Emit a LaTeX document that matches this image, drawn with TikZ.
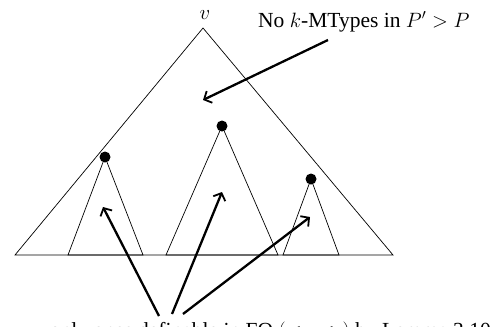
\documentclass[tikz,border=0pt]{standalone}
\usepackage{fontspec}
\setmainfont{Liberation Serif}
\usetikzlibrary{arrows.meta}
\begin{document}
\begin{tikzpicture}[x=1pt,y=-1pt,
  thinline/.style={line width=0.7pt},
  dot/.style={circle,fill=black,inner sep=0pt,minimum size=11pt},
  bigarrow/.style={line width=2.3pt,-{Straight Barb[length=6pt,width=13pt,line width=1.8pt]}},
  lbl/.style={inner sep=0pt,font=\fontsize{21.5}{24}\selectfont}]
\useasboundingbox (0,0) rectangle (491,327);
\clip (0,0) rectangle (491,327);
% big triangle
\coordinate (v) at (203,28);
\coordinate (bl) at (15,255);
\coordinate (br) at (393,255);
\draw[thinline] (bl) -- (v) -- (br) -- cycle;
\node[lbl,anchor=base] (vlab) at (205,19) {$v$};
% subtrees
\node[dot] (d1) at (105,157) {};
\node[dot] (d2) at (222,126) {};
\node[dot] (d3) at (311,179) {};
\coordinate (a1) at (68,255); \coordinate (b1) at (143,255);
\coordinate (a2) at (166,255); \coordinate (b2) at (278,255);
\coordinate (a3) at (283,255); \coordinate (b3) at (339,255);
\draw[thinline] (a1) -- (d1.center) -- (b1) -- cycle;
\draw[thinline] (a2) -- (d2.center) -- (b2) -- cycle;
\draw[thinline] (a3) -- (d3.center) -- (b3) -- cycle;
% top label and arrow
\node[lbl,anchor=base west] (top) at (258,27) {No $k$-MTypes in $P' > P$};
\coordinate (ts) at (328,40);
\coordinate (te) at (203,100);
\draw[bigarrow] (ts) -- (te);
% bottom label and arrows
\node[lbl,anchor=base east] (bot) at (491,337) {only ones definable in FO $(<_{\mathrm{v}},<_{\mathrm{h}})$ by Lemma 3.10};
\coordinate (s1) at (159,316); \coordinate (e1) at (103,207);
\coordinate (s2) at (172,314); \coordinate (e2) at (222,192);
\coordinate (s3) at (183,314); \coordinate (e3) at (310,217);
\draw[bigarrow] (s1) -- (e1);
\draw[bigarrow] (s2) -- (e2);
\draw[bigarrow] (s3) -- (e3);
\end{tikzpicture}
\end{document}
